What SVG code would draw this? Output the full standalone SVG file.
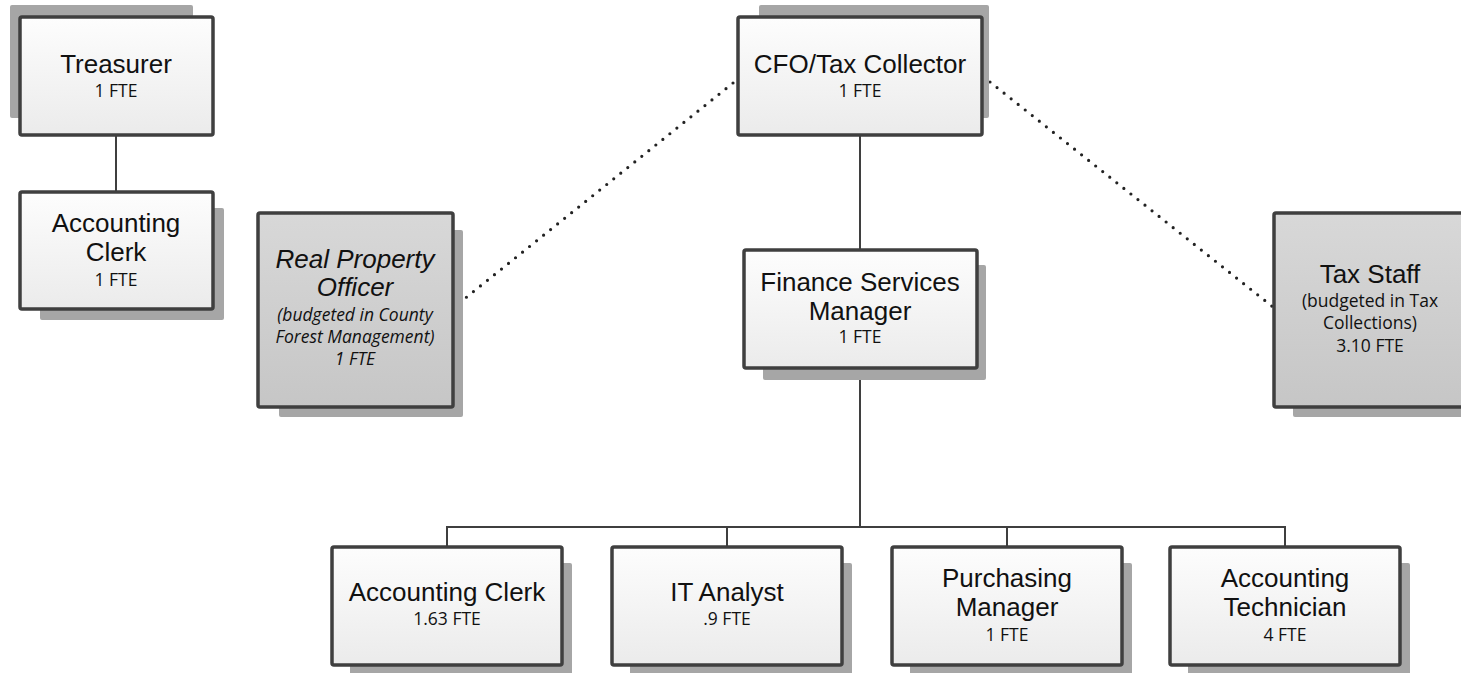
<svg xmlns="http://www.w3.org/2000/svg" width="1461" height="673" viewBox="0 0 1461 673">
  <defs>
    <linearGradient id="fillLight" x1="0" y1="0" x2="0" y2="1">
      <stop offset="0" stop-color="#fdfdfd"/>
      <stop offset="1" stop-color="#ebebeb"/>
    </linearGradient>
    <linearGradient id="fillGray" x1="0" y1="0" x2="0" y2="1">
      <stop offset="0" stop-color="#d8d8d8"/>
      <stop offset="1" stop-color="#c6c6c6"/>
    </linearGradient>
  </defs>
  <style>
    .shadow { fill: #a6a6a6; }
    .box { fill: url(#fillLight); stroke: #3f3f3f; stroke-width: 3.5; }
    .box.gray { fill: url(#fillGray); }
    .title { font-family: "Liberation Sans", Arial, sans-serif; font-size: 26px; fill: #111; text-anchor: middle; }
    .sub { font-family: "Open Sans", "Liberation Sans", sans-serif; font-size: 17.5px; fill: #111; text-anchor: middle; }
    .it { font-style: italic; }
    .link { fill: none; stroke: #3f3f3f; stroke-width: 2; }
    .dotted { fill: none; stroke: #222; stroke-width: 3.2; stroke-linecap: round; stroke-dasharray: 0 9; }
  </style>

  <rect width="1461" height="673" fill="#ffffff"/>

  <!-- reporting lines -->
  <g id="connectors">
    <line class="link" x1="116" y1="136" x2="116" y2="192"/>
    <line class="link" x1="860" y1="136" x2="860" y2="250"/>
    <line class="link" x1="860" y1="368" x2="860" y2="527"/>
    <polyline class="link" points="447,547 447,527 1285,527 1285,547"/>
    <line class="link" x1="727" y1="527" x2="727" y2="547"/>
    <line class="link" x1="1007" y1="527" x2="1007" y2="547"/>
    <line class="dotted" x1="733" y1="83" x2="458" y2="304"/>
    <line class="dotted" x1="990" y1="82" x2="1273" y2="307"/>
  </g>

  <g id="treasurer">
    <rect class="shadow" x="10" y="5" width="183" height="113" rx="2"/>
    <rect class="box" x="20" y="17" width="193" height="118" rx="2"/>
    <text class="title" x="116" y="73">Treasurer</text>
    <text class="sub" x="116" y="97">1 FTE</text>
  </g>

  <g id="accounting-clerk-treasury">
    <rect class="shadow" x="40" y="208" width="184" height="112" rx="2"/>
    <rect class="box" x="20" y="192" width="193" height="117" rx="2"/>
    <text class="title" x="116" y="232">Accounting</text>
    <text class="title" x="116" y="261">Clerk</text>
    <text class="sub" x="116" y="286">1 FTE</text>
  </g>

  <g id="cfo">
    <rect class="shadow" x="759" y="5" width="230" height="113" rx="2"/>
    <rect class="box" x="738" y="17" width="244" height="118" rx="2"/>
    <text class="title" x="860" y="73">CFO/Tax Collector</text>
    <text class="sub" x="860" y="97">1 FTE</text>
  </g>

  <g id="real-property-officer">
    <rect class="shadow" x="279" y="230" width="184" height="187" rx="2"/>
    <rect class="box gray" x="258" y="213" width="195" height="194" rx="2"/>
    <text class="title it" x="355" y="268">Real Property</text>
    <text class="title it" x="355" y="296">Officer</text>
    <text class="sub it" x="355" y="321">(budgeted in County</text>
    <text class="sub it" x="355" y="343">Forest Management)</text>
    <text class="sub it" x="355" y="365">1 FTE</text>
  </g>

  <g id="finance-services-manager">
    <rect class="shadow" x="763" y="265" width="223" height="115" rx="2"/>
    <rect class="box" x="744" y="250" width="233" height="118" rx="2"/>
    <text class="title" x="860" y="291">Finance Services</text>
    <text class="title" x="860" y="320">Manager</text>
    <text class="sub" x="860" y="343">1 FTE</text>
  </g>

  <g id="tax-staff">
    <rect class="shadow" x="1293" y="230" width="184" height="187" rx="2"/>
    <rect class="box gray" x="1274" y="213" width="195" height="194" rx="2"/>
    <text class="title" x="1370" y="283">Tax Staff</text>
    <text class="sub" x="1370" y="307">(budgeted in Tax</text>
    <text class="sub" x="1370" y="329">Collections)</text>
    <text class="sub" x="1370" y="352">3.10 FTE</text>
  </g>

  <g id="accounting-clerk">
    <rect class="shadow" x="350" y="563" width="222" height="115" rx="2"/>
    <rect class="box" x="332" y="547" width="230" height="118" rx="2"/>
    <text class="title" x="447" y="601">Accounting Clerk</text>
    <text class="sub" x="447" y="625">1.63 FTE</text>
  </g>

  <g id="it-analyst">
    <rect class="shadow" x="630" y="563" width="222" height="115" rx="2"/>
    <rect class="box" x="612" y="547" width="230" height="118" rx="2"/>
    <text class="title" x="727" y="601">IT Analyst</text>
    <text class="sub" x="727" y="625">.9 FTE</text>
  </g>

  <g id="purchasing-manager">
    <rect class="shadow" x="910" y="563" width="222" height="115" rx="2"/>
    <rect class="box" x="892" y="547" width="230" height="118" rx="2"/>
    <text class="title" x="1007" y="587">Purchasing</text>
    <text class="title" x="1007" y="616">Manager</text>
    <text class="sub" x="1007" y="641">1 FTE</text>
  </g>

  <g id="accounting-technician">
    <rect class="shadow" x="1188" y="563" width="222" height="115" rx="2"/>
    <rect class="box" x="1170" y="547" width="230" height="118" rx="2"/>
    <text class="title" x="1285" y="587">Accounting</text>
    <text class="title" x="1285" y="616">Technician</text>
    <text class="sub" x="1285" y="641">4 FTE</text>
  </g>
</svg>
